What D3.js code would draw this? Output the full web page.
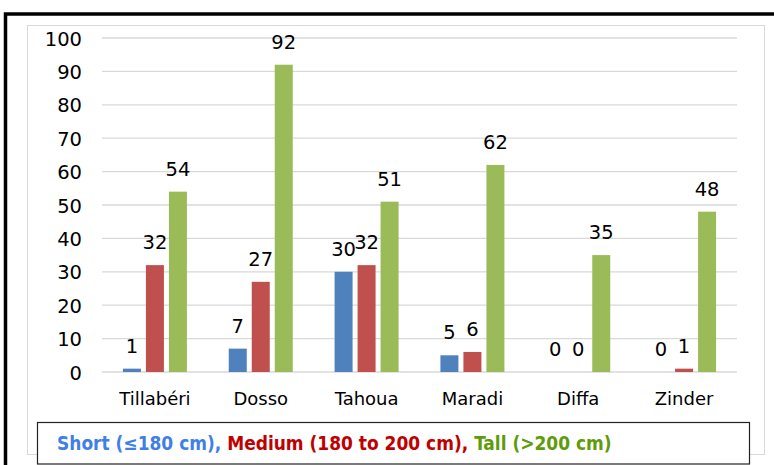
<!DOCTYPE html>
<html>
<head>
<meta charset="utf-8">
<script src="https://cdn.jsdelivr.net/npm/d3@7"></script>
<style>
  html, body { margin: 0; padding: 0; background: #fff; }
  svg { display: block; }
</style>
</head>
<body>
<svg id="chart" width="774" height="465"></svg>
<script>
const categories = ["Tillabéri", "Dosso", "Tahoua", "Maradi", "Diffa", "Zinder"];
const seriesNames = ["Short", "Medium", "Tall"];
const shortVals = [1, 7, 30, 5, 0, 0];
const mediumVals = [32, 27, 32, 6, 0, 1];
const tallVals = [54, 92, 51, 62, 35, 48];
const yTicks = [0, 10, 20, 30, 40, 50, 60, 70, 80, 90, 100];
const legendParts = [
  { text: "Short (≤180 cm)", color: "#3f7fe6" },
  { text: ", ", color: "#3f7fe6" },
  { text: "Medium (180 to 200 cm)", color: "#c00000" },
  { text: ", ", color: "#c00000" },
  { text: "Tall (>200 cm)", color: "#5e9c0a" }
];
const barColors = { Short: "#4f81bd", Medium: "#c0504d", Tall: "#9bbb59" };

const values = { Short: shortVals, Medium: mediumVals, Tall: tallVals };
const data = categories.map((c, i) => ({
  cat: c,
  vals: seriesNames.map(s => ({ series: s, value: values[s][i] }))
}));

const svg = d3.select("#chart");
const font = "'DejaVu Sans', sans-serif";

// outer black frame
svg.append("rect").attr("x", 5.5).attr("y", 14).attr("width", 820).attr("height", 520)
  .attr("fill", "none").attr("stroke", "#000").attr("stroke-width", 3.5);
// inner chart area
svg.append("rect").attr("x", 27.5).attr("y", 25.5).attr("width", 737).attr("height", 429)
  .attr("fill", "#fff").attr("stroke", "#d9d9d9").attr("stroke-width", 1);

const x0 = d3.scaleBand().domain(categories).range([102, 737]).padding(0);
const half = 32;
const x1 = d3.scaleBand().domain(seriesNames)
  .range([x0.bandwidth() / 2 - half, x0.bandwidth() / 2 + half])
  .paddingInner(5 / 23).paddingOuter(0);
const y = d3.scaleLinear().domain([0, 100]).range([372, 38]);

// gridlines
svg.append("g").selectAll("line").data(yTicks).join("line")
  .attr("x1", 102).attr("x2", 737)
  .attr("y1", d => y(d)).attr("y2", d => y(d))
  .attr("stroke", "#d9d9d9").attr("stroke-width", 1.3);

// y axis labels
const yAxis = d3.axisLeft(y).tickValues(yTicks).tickSize(0).tickPadding(0);
const yg = svg.append("g").attr("transform", "translate(82,0)").call(yAxis);
yg.select(".domain").remove();
yg.selectAll("text").attr("font-family", font).attr("font-size", 19.5).attr("fill", "#000")
  .attr("dy", "0.36em");

// x axis labels
const xAxis = d3.axisBottom(x0).tickSize(0).tickPadding(0);
const xg = svg.append("g").attr("transform", "translate(0,405)").call(xAxis);
xg.select(".domain").remove();
xg.selectAll("text").attr("font-family", font).attr("font-size", 18).attr("fill", "#000")
  .attr("dy", "0");

// bars
const groups = svg.append("g").selectAll("g").data(data).join("g")
  .attr("transform", d => `translate(${x0(d.cat)},0)`);
groups.selectAll("rect").data(d => d.vals).join("rect")
  .attr("x", d => x1(d.series))
  .attr("width", x1.bandwidth())
  .attr("y", d => y(d.value))
  .attr("height", d => y(0) - y(d.value))
  .attr("fill", d => barColors[d.series]);

// value labels
groups.selectAll("text").data(d => d.vals).join("text")
  .attr("x", d => x1(d.series) + x1.bandwidth() / 2)
  .attr("y", d => y(d.value) - 16)
  .attr("text-anchor", "middle")
  .attr("font-family", font).attr("font-size", 19.5).attr("fill", "#000")
  .text(d => d.value);

// legend box
svg.append("rect").attr("x", 37.5).attr("y", 422.5).attr("width", 712).attr("height", 41.5)
  .attr("fill", "#fff").attr("stroke", "#222").attr("stroke-width", 1.2);
const lt = svg.append("text").attr("x", 57).attr("y", 450)
  .attr("font-family", "'DejaVu Sans Condensed', 'DejaVu Sans', sans-serif")
  .attr("font-size", 17).attr("font-weight", "bold");
lt.selectAll("tspan").data(legendParts).join("tspan")
  .attr("fill", d => d.color).text(d => d.text);
const targetW = 555;
const w = lt.node().getComputedTextLength();
if (w > 0) lt.attr("font-size", Math.min(19, 17 * targetW / w));
</script>
</body>
</html>
